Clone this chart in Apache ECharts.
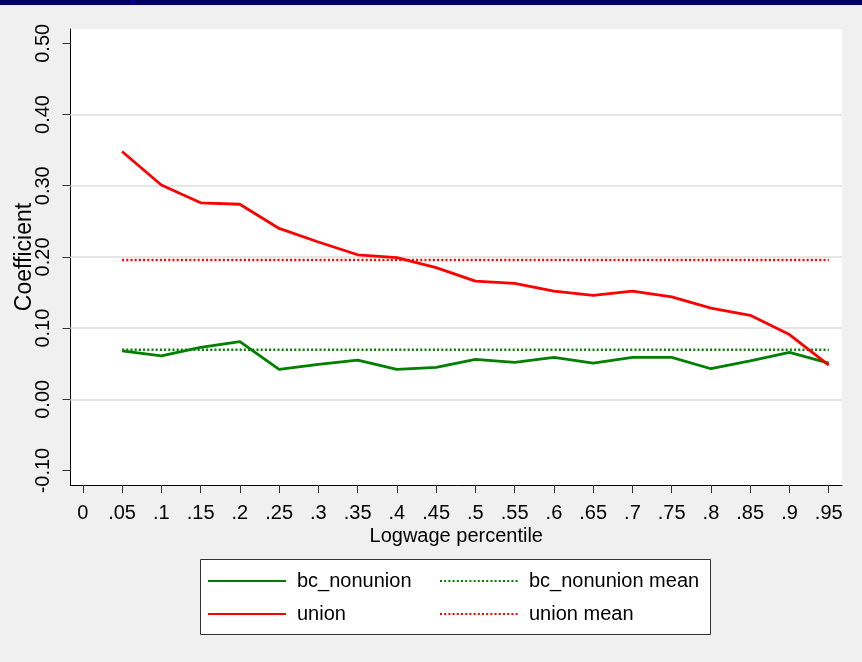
<!DOCTYPE html>
<html>
<head>
<meta charset="utf-8">
<title>Coefficient by logwage percentile</title>
<script src="https://cdn.jsdelivr.net/npm/echarts@6/dist/echarts.min.js"></script>
<style>
  html, body { margin: 0; padding: 0; background: #f0f0f0; }
  #chart { width: 862px; height: 662px; }
</style>
</head>
<body>
<div id="chart"></div>
<script>
// Quantile regression coefficients at each logwage percentile
const percentiles = [0.05, 0.10, 0.15, 0.20, 0.25, 0.30, 0.35, 0.40, 0.45, 0.50,
                     0.55, 0.60, 0.65, 0.70, 0.75, 0.80, 0.85, 0.90, 0.95];
const bcNonunion = [0.068, 0.061, 0.073, 0.081, 0.042, 0.049, 0.055, 0.042, 0.045, 0.056,
                    0.052, 0.059, 0.051, 0.059, 0.059, 0.043, 0.054, 0.066, 0.051];
const union = [0.348, 0.301, 0.276, 0.274, 0.240, 0.221, 0.203, 0.199, 0.185, 0.166,
               0.163, 0.152, 0.146, 0.152, 0.144, 0.128, 0.118, 0.091, 0.048];
const bcNonunionMean = 0.0697;
const unionMean = 0.1956;

// Axis ticks
const xTickValues = [0, 0.05, 0.10, 0.15, 0.20, 0.25, 0.30, 0.35, 0.40, 0.45,
                     0.50, 0.55, 0.60, 0.65, 0.70, 0.75, 0.80, 0.85, 0.90, 0.95];
const xTickLabels = ['0', '.05', '.1', '.15', '.2', '.25', '.3', '.35', '.4', '.45',
                     '.5', '.55', '.6', '.65', '.7', '.75', '.8', '.85', '.9', '.95'];
const yTickValues = [-0.10, 0.00, 0.10, 0.20, 0.30, 0.40, 0.50];
const yGridValues = [0.00, 0.10, 0.20, 0.30, 0.40];

const GREEN = '#008000';
const RED = '#ff0000';
const FONT = '"Liberation Sans", Arial, Helvetica, sans-serif';

const pairs = (ys) => percentiles.map((p, i) => [p, ys[i]]);
const meanLine = (m) => [[percentiles[0], m], [percentiles[percentiles.length - 1], m]];

const chart = echarts.init(document.getElementById('chart'), null, { renderer: 'canvas' });

const legendCommon = {
  orient: 'vertical',
  top: 566,
  itemWidth: 78,
  itemHeight: 14,
  itemGap: 13,
  itemStyle: { opacity: 0 },
  textStyle: { fontSize: 20, color: '#000', fontFamily: FONT, padding: [0, 0, 0, 6] }
};

const option = {
  backgroundColor: '#f0f0f0',
  animation: false,
  textStyle: { fontFamily: FONT },
  graphic: [
    { type: 'rect', shape: { x: 0, y: 0, width: 862, height: 5 }, style: { fill: '#000063' }, z: 10 },
    { type: 'rect', shape: { x: 130, y: 0, width: 5, height: 5 }, style: { fill: '#00008c' }, z: 11 },
    { type: 'rect', shape: { x: 200.5, y: 559.5, width: 510, height: 75 },
      style: { fill: '#ffffff', stroke: '#333333', lineWidth: 1 }, z: 0 }
  ],
  grid: {
    left: 70.5, top: 29, width: 771.5, height: 456,
    outerBoundsMode: 'none',
    containLabel: false,
    show: true, backgroundColor: '#ffffff', borderWidth: 0
  },
  xAxis: {
    type: 'value',
    min: -0.0157,
    max: 0.9669,
    name: 'Logwage percentile',
    nameLocation: 'middle',
    nameGap: 41,
    nameMoveOverlap: false,
    nameTextStyle: { fontSize: 20, color: '#000', fontFamily: FONT },
    axisLine: { show: true, onZero: false, lineStyle: { color: '#000', width: 1 } },
    axisTick: { show: true, length: 8, customValues: xTickValues, lineStyle: { color: '#333', width: 1 } },
    axisLabel: {
      customValues: xTickValues,
      margin: 18,
      fontSize: 20,
      color: '#000',
      fontFamily: FONT,
      formatter: (v) => xTickLabels[Math.round(v * 20)]
    },
    splitLine: { show: false }
  },
  yAxis: {
    type: 'value',
    min: -0.1203,
    max: 0.5201,
    name: 'Coefficient',
    nameLocation: 'middle',
    nameRotate: 90,
    nameGap: 34,
    nameMoveOverlap: false,
    nameTextStyle: { fontSize: 23, color: '#000', fontFamily: FONT },
    axisLine: { show: true, onZero: false, lineStyle: { color: '#000', width: 1 } },
    axisTick: { show: true, length: 8, customValues: yTickValues, lineStyle: { color: '#333', width: 1 } },
    axisLabel: {
      customValues: yTickValues,
      rotate: 90,
      margin: 17,
      fontSize: 20,
      color: '#000',
      fontFamily: FONT,
      formatter: (v) => v.toFixed(2)
    },
    splitLine: { show: false }
  },
  legend: [
    Object.assign({}, legendCommon, { left: 202, data: ['bc_nonunion', 'union'] }),
    Object.assign({}, legendCommon, { left: 434, data: ['bc_nonunion mean', 'union mean'] })
  ],
  series: [
    {
      name: 'gridlines',
      type: 'line',
      data: [],
      silent: true,
      z: 1,
      markLine: {
        silent: true,
        symbol: ['none', 'none'],
        label: { show: false },
        lineStyle: { color: '#e6e6e6', width: 2, type: 'solid' },
        data: yGridValues.map((v) => ({ yAxis: v }))
      }
    },
    {
      name: 'bc_nonunion mean',
      type: 'line',
      data: meanLine(bcNonunionMean),
      showSymbol: false,
      symbol: 'none',
      z: 3,
      color: GREEN,
      lineStyle: { color: GREEN, width: 2.5, type: [2, 2.2] }
    },
    {
      name: 'union mean',
      type: 'line',
      data: meanLine(unionMean),
      showSymbol: false,
      symbol: 'none',
      z: 3,
      color: RED,
      lineStyle: { color: RED, width: 2.5, type: [2, 2.2] }
    },
    {
      name: 'bc_nonunion',
      type: 'line',
      data: pairs(bcNonunion),
      showSymbol: false,
      symbol: 'none',
      z: 4,
      color: GREEN,
      lineStyle: { color: GREEN, width: 2.8 }
    },
    {
      name: 'union',
      type: 'line',
      data: pairs(union),
      showSymbol: false,
      symbol: 'none',
      z: 5,
      color: RED,
      lineStyle: { color: RED, width: 2.8 }
    }
  ]
};

chart.setOption(option);
</script>
</body>
</html>
